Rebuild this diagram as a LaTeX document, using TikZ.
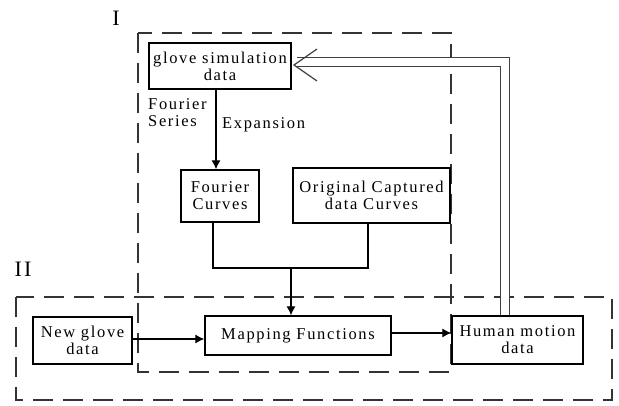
\documentclass[tikz,border=0pt]{standalone}
\usepackage{fontspec}
\setmainfont{Liberation Serif}[LetterSpace=10]
\usetikzlibrary{arrows.meta,calc}
\begin{document}
\begin{tikzpicture}[x=1pt,y=-1pt,
  box/.style={draw=black,line width=1.3pt,inner sep=0pt,align=center,font=\fontsize{16.5}{17}\selectfont},
  region/.style={draw=black!80,line width=1.3pt,dash pattern=on 20pt off 10pt},
  conn/.style={draw=black,line width=1.2pt},
  arr/.style={conn,-{Latex[length=9pt,width=9pt]}},
  lbl/.style={inner sep=0pt,font=\fontsize{16.5}{17}\selectfont,align=left},
  numeral/.style={inner sep=0pt,font=\fontsize{22}{22}\selectfont}]
\useasboundingbox (0,0) rectangle (619,406);
% regions
\draw[region] (138,33) rectangle (451,372);
\draw[region] (16,297) rectangle (612,400);
\node[numeral] (nI) at (116,18) {I};
\node[numeral] (nII) at (23,269) {II};
% boxes
\node[box,minimum width=142pt,minimum height=46pt] (glove) at (220,66) {glove simulation\\data};
\node[box,minimum width=78pt,minimum height=52pt] (fc) at (220,196) {Fourier\\Curves};
\node[box,minimum width=157pt,minimum height=55pt] (oc) at (371.5,195.5) {Original Captured\\data Curves};
\node[box,minimum width=99pt,minimum height=47pt] (ng) at (82.5,340.5) {New glove\\data};
\node[box,minimum width=186pt,minimum height=39pt] (mf) at (298,335.5) {Mapping Functions};
\node[box,minimum width=131pt,minimum height=48pt] (hm) at (517.5,340) {Human motion\\data};
% labels
\node[lbl,anchor=north west] (fs) at (148,98) {Fourier\\Series};
\node[lbl,anchor=west] (ex) at (222,125) {Expansion};
% coordinates
\coordinate (c216) at (216,0);
\coordinate (c213) at (213,0);
\coordinate (c368) at (368,0);
\coordinate (c291) at (291,268);
\coordinate (c505) at (505,62);
\coordinate (tipend) at (297,62);
\coordinate (apex) at (294,65);
% connectors
\draw[arr] (glove.south -| c216) -- (fc.north -| c216);
\draw[conn] (fc.south -| c213) |- (c291) -| (oc.south -| c368);
\draw[arr] (c291) -- (mf.north -| c291);
\draw[arr] (ng.east |- 0,339) -- (mf.west |- 0,339);
\draw[arr] (mf.east |- 0,333) -- (hm.west |- 0,333);
% double feedback line
\draw[draw=black!75,line width=1.5pt,double=white,double distance=7.5pt] (hm.north -| c505) |- (tipend);
\draw[draw=black!75,line width=1.2pt] ($(apex)+(23,-16)$) -- (apex) -- ($(apex)+(23,16)$);
\end{tikzpicture}
\end{document}
